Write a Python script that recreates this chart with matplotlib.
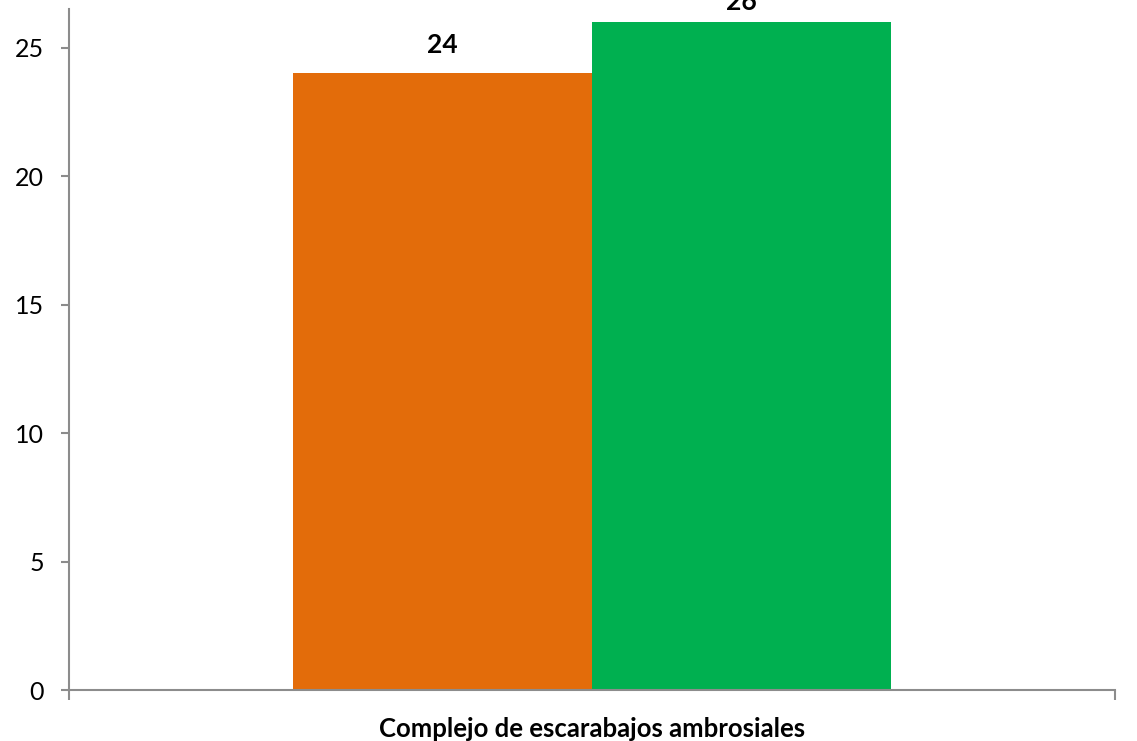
import numpy as np
import matplotlib.pyplot as plt

plt.rcParams['font.family'] = ['Lato', 'DejaVu Sans']

categoria = 'Complejo de escarabajos ambrosiales'
series = ['Serie 1', 'Serie 2']
valores = [24, 26]
colores = ['#E36C0A', '#00B050']

fig = plt.figure(figsize=(11.37, 7.41), dpi=100)
ax = fig.add_axes([0.0607, 0.0682, 0.92, 0.9197])

ancho = 0.286
pos = np.array([-0.5, 0.5]) * ancho
bars = ax.bar(pos, valores, width=ancho, color=colores, zorder=2)

ax.set_xlim(-0.5, 0.5)
ax.set_ylim(0, 26.5)

# etiquetas encima de las barras, sin salirse del borde superior
alto = fig.get_figheight() * fig.dpi
for b, v in zip(bars, valores):
    xc = b.get_x() + b.get_width() / 2
    ytop = ax.transData.transform((xc, v))[1]
    ypix = min(ytop + 20, alto - 10)
    fy = ypix / alto
    fx = ax.transData.transform((xc, v))[0] / (fig.get_figwidth() * fig.dpi)
    fig.text(fx, fy, str(v), ha='center', va='baseline',
             fontsize=19, fontweight='bold')

ax.set_yticks([0, 5, 10, 15, 20, 25])
ax.set_xticks([-0.5, 0.5])
ax.set_xticklabels(['', ''])
fig.text(0.5207, 4 / 741, categoria, ha='center', va='baseline',
         fontsize=18.5, fontweight='bold')

for s in ['top', 'right']:
    ax.spines[s].set_visible(False)
for s in ['left', 'bottom']:
    ax.spines[s].set_color('#8c8c8c')
    ax.spines[s].set_linewidth(1.5)
ax.tick_params(axis='y', length=6, width=1.5, color='#8c8c8c', labelsize=18, pad=12)
ax.tick_params(axis='x', length=7, width=1.5, color='#8c8c8c')

fig.savefig('out.png', dpi=100)
